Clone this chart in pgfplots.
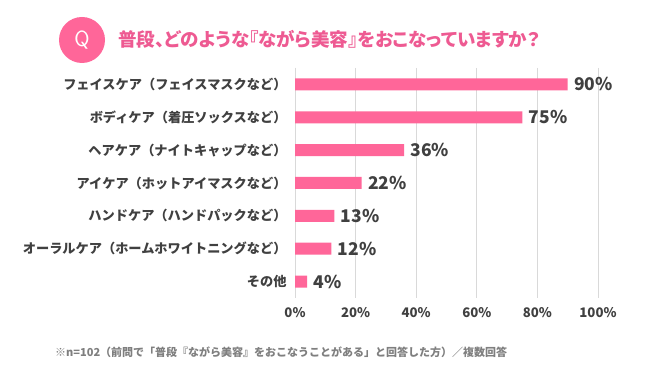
\documentclass[border=0pt]{standalone}
\usepackage{fontspec}
\setmainfont{Noto Sans CJK JP}
\newfontfamily\titlefont{Noto Sans CJK JP}[RawFeature=+palt]
\usepackage{pgfplots}
\pgfplotsset{compat=1.18}
\definecolor{barpink}{HTML}{FF6699}
\definecolor{titlepink}{HTML}{EE5A92}
\definecolor{txt}{HTML}{404040}
\definecolor{gridgray}{HTML}{D9D9D9}
\definecolor{notegray}{HTML}{7F7F7F}
\begin{document}
\begin{tikzpicture}
\path[use as bounding box,fill=white] (0pt,0pt) rectangle (650pt,374pt);
\fill[barpink] (82pt,334pt) circle (23pt);
\node[white,font=\fontsize{22}{22}\selectfont\sffamily] at (82pt,334pt) {Q};
\node[anchor=west,titlepink,font=\titlefont\fontsize{18.5}{18}\selectfont\bfseries,inner sep=0pt] at (118pt,335pt) {普段、どのような『ながら美容』をおこなっていますか？};
\begin{axis}[
  at={(295pt,76pt)}, anchor=south west, scale only axis,
  width=303pt, height=230pt,
  xbar, bar width=12pt,
  xmin=0, xmax=100, ymin=-0.5, ymax=6.5, y dir=reverse,
  ytick={0,...,6},
  yticklabels={フェイスケア（フェイスマスクなど）,ボディケア（着圧ソックスなど）,ヘアケア（ナイトキャップなど）,アイケア（ホットアイマスクなど）,ハンドケア（ハンドパックなど）,オーラルケア（ホームホワイトニングなど）,その他},
  xtick={0,20,...,100},
  xticklabel={\pgfmathprintnumber{\tick}\%},
  /pgf/number format/assume math mode=true,
  major tick length=0pt,
  axis lines*=left,
  x axis line style={draw=none},
  y axis line style={draw=gridgray,line width=0.75pt},
  xmajorgrids, grid style={draw=gridgray,line width=0.75pt},
  ticklabel style={txt,font=\fontsize{13.2}{13}\selectfont\bfseries},
  yticklabel style={xshift=-5pt},
  xticklabel style={yshift=-6pt},
  nodes near coords={\pgfmathprintnumber{\pgfplotspointmeta}\%},
  nodes near coords style={txt,font=\fontsize{17.5}{17}\selectfont\bfseries,xshift=3pt},
  clip=false,
]
\addplot[fill=barpink,draw=none] coordinates {(90,0) (75,1) (36,2) (22,3) (13,4) (12,5) (4,6)};
\end{axis}
\node[anchor=west,notegray,font=\fontsize{11}{11}\selectfont\bfseries,inner sep=0pt] at (55pt,22pt) {※n=102（前問で「普段『ながら美容』をおこなうことがある」と回答した方）／複数回答};
\end{tikzpicture}
\end{document}
